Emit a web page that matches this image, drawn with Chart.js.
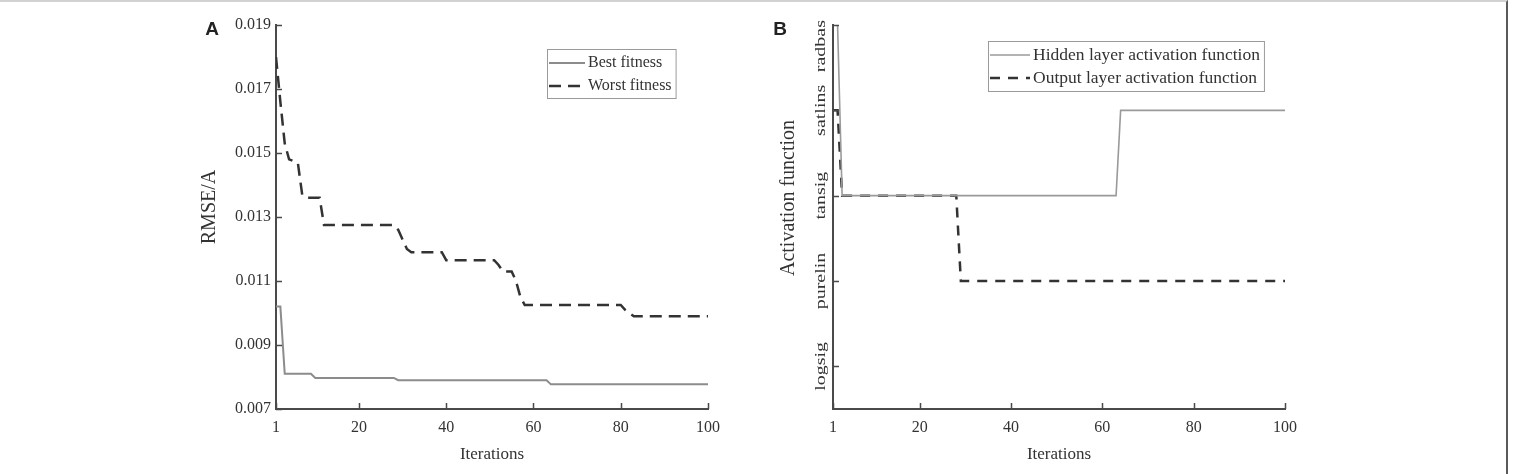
<!DOCTYPE html>
<html>
<head>
<meta charset="utf-8">
<script src="https://cdn.jsdelivr.net/npm/chart.js@4.4.0/dist/chart.umd.min.js"></script>
<style>
  html, body { margin: 0; padding: 0; background: #fff; }
  body { width: 1514px; height: 474px; position: relative; overflow: hidden; }
  #frame { position: absolute; left: 0; top: 0; width: 1506px; height: 472px;
           border-top: 2px solid #d2d2d2; border-right: 2px solid #5a5a5a; }
  .panel { position: absolute; top: 0; }
  #chart-a { left: 150px; }
  #chart-b { left: 740px; }
</style>
</head>
<body>
<div id="frame"></div>
<canvas id="chart-a" class="panel" width="590" height="474"></canvas>
<canvas id="chart-b" class="panel" width="590" height="474"></canvas>
<script>
const iterTicks = [1, 20, 40, 60, 80, 100];
const rmseTicks = [0.007, 0.009, 0.011, 0.013, 0.015, 0.017, 0.019];
const actNames = ['logsig', 'purelin', 'tansig', 'satlins', 'radbas'];

// panel A: fitness per iteration (points where the curve changes)
const bestIter = [1, 2, 3, 9, 10, 28, 29, 63, 64, 100];
const bestVal = [0.0102, 0.0102, 0.0081, 0.0081, 0.00797, 0.00797, 0.0079, 0.0079, 0.00777, 0.00777];
const worstIter = [1, 2, 3, 4, 6, 7, 8, 11, 12, 28, 29, 30, 31, 32, 39, 40, 51, 52, 53, 55, 56, 57, 58, 80, 81, 82, 83, 100];
const worstVal = [0.0180, 0.0166, 0.0153, 0.0148, 0.0147, 0.0137, 0.0136, 0.0136, 0.01275, 0.01275, 0.0126, 0.0123, 0.0120, 0.0119, 0.0119, 0.01165, 0.01165, 0.0115, 0.0113, 0.0113, 0.0110, 0.0105, 0.01025, 0.01025, 0.0101, 0.0100, 0.0099, 0.0099];

// panel B: chosen activation functions
const hiddenIter = [1, 2, 3, 63, 64, 100];
const hiddenAct = ['radbas', 'radbas', 'tansig', 'tansig', 'satlins', 'satlins'];
const outputIter = [1, 2, 3, 28, 29, 100];
const outputAct = ['satlins', 'satlins', 'tansig', 'tansig', 'purelin', 'purelin'];

const serif = '"Liberation Serif", "Times New Roman", serif';
const ink = '#333';
const axisColor = '#4a4a4a';

Chart.defaults.font.family = serif;
Chart.defaults.color = ink;

function points(iters, vals) {
    return iters.map(function (x, i) { return {x: x, y: vals[i]}; });
}
function actPoints(iters, names) {
    return iters.map(function (x, i) { return {x: x, y: actNames.indexOf(names[i]) + 1}; });
}

// inward ticks, rotated y title, panel letter, legend box, rotated category labels
const figureExtras = {
    id: 'figureExtras',
    afterDraw(chart, args, opts) {
        const ctx = chart.ctx;
        const xs = chart.scales.x, ys = chart.scales.y;
        const area = chart.chartArea;
        ctx.save();

        ctx.strokeStyle = axisColor;
        ctx.lineWidth = 1.5;
        ctx.beginPath();
        xs.ticks.forEach(function (t) {
            const px = Math.round(xs.getPixelForValue(t.value)) + 0.5;
            ctx.moveTo(px, area.bottom);
            ctx.lineTo(px, area.bottom - 6);
        });
        ys.ticks.forEach(function (t) {
            const py = Math.round(ys.getPixelForValue(t.value)) + 0.5;
            ctx.moveTo(area.left, py);
            ctx.lineTo(area.left + 6, py);
        });
        ctx.stroke();

        ctx.fillStyle = ink;
        ctx.textAlign = 'center';
        ctx.textBaseline = 'middle';

        if (opts.catLabels) {
            ctx.font = opts.catSize + 'px ' + serif;
            ys.ticks.forEach(function (t) {
                const label = opts.catLabels[t.value - 1];
                const len = ctx.measureText(label).width;
                let cy = ys.getPixelForValue(t.value);
                if (cy - len / 2 < 20) cy = 20 + len / 2;
                ctx.save();
                ctx.translate(opts.catX, cy);
                ctx.rotate(-Math.PI / 2);
                ctx.scale(1, 0.72);
                ctx.fillText(label, 0, 0);
                ctx.restore();
            });
        }

        ctx.save();
        ctx.font = opts.yTitle.size + 'px ' + serif;
        ctx.translate(opts.yTitle.x, opts.yTitle.y);
        ctx.rotate(-Math.PI / 2);
        ctx.fillText(opts.yTitle.text, 0, 0);
        ctx.restore();

        ctx.font = 'bold 19px "Liberation Sans", Arial, sans-serif';
        ctx.fillStyle = '#222';
        ctx.fillText(opts.letter.text, opts.letter.x, opts.letter.y);

        const lg = opts.legend;
        ctx.font = lg.size + 'px ' + serif;
        let textW = 0;
        chart.data.datasets.forEach(function (d) { textW = Math.max(textW, ctx.measureText(d.label).width); });
        const right = lg.left + 2 + lg.sample + 3 + textW + 4;
        ctx.strokeStyle = '#9a9a9a';
        ctx.lineWidth = 1;
        ctx.strokeRect(lg.left + 0.5, lg.top + 0.5, right - lg.left, lg.bottom - lg.top);
        ctx.textAlign = 'left';
        chart.data.datasets.forEach(function (d, i) {
            const ry = lg.rows[i];
            ctx.strokeStyle = d.borderColor;
            ctx.lineWidth = d.borderWidth;
            ctx.setLineDash(d.borderDash || []);
            ctx.beginPath();
            ctx.moveTo(lg.left + 2, ry);
            ctx.lineTo(lg.left + 2 + lg.sample, ry);
            ctx.stroke();
            ctx.setLineDash([]);
            ctx.fillStyle = ink;
            ctx.fillText(d.label, lg.left + 2 + lg.sample + 3, ry);
        });
        ctx.restore();
    }
};

function xScale(height, size) {
    return {
        type: 'linear', min: 1, max: 100,
        afterBuildTicks: function (s) { s.ticks = iterTicks.map(function (v) { return {value: v}; }); },
        afterFit: function (s) { s.height = height; },
        grid: {display: true, drawOnChartArea: false, drawTicks: false},
        border: {display: true, color: axisColor, width: 2},
        ticks: {padding: 9, maxRotation: 0, autoSkip: false, color: ink, font: {size: size},
                callback: function (v) { return String(v); }},
        title: {display: true, text: 'Iterations', color: ink, font: {size: size + 1}, padding: {top: 0, bottom: 9}}
    };
}

new Chart(document.getElementById('chart-a'), {
    type: 'line',
    data: {
        datasets: [{
            label: 'Best fitness',
            data: points(bestIter, bestVal),
            borderColor: '#8c8c8c', borderWidth: 2, pointRadius: 0, tension: 0
        }, {
            label: 'Worst fitness',
            data: points(worstIter, worstVal),
            borderColor: '#333', borderWidth: 2.5, borderDash: [12, 7], pointRadius: 0, tension: 0
        }]
    },
    options: {
        responsive: false,
        animation: false,
        layout: {padding: {left: 0, right: 590 - 558, top: 25, bottom: 0}},
        scales: {
            x: xScale(65, 16),
            y: {
                type: 'linear', min: 0.007, max: 0.019,
                afterBuildTicks: function (s) { s.ticks = rmseTicks.map(function (v) { return {value: v}; }); },
                afterFit: function (s) { s.width = 126; },
                grid: {display: true, drawOnChartArea: false, drawTicks: false},
                border: {display: true, color: axisColor, width: 2},
                ticks: {padding: 5, color: ink, font: {size: 16},
                        callback: function (v) { return v.toFixed(3); }}
            }
        },
        plugins: {
            legend: {display: false},
            tooltip: {enabled: false},
            figureExtras: {
                yTitle: {text: 'RMSE/A', x: 60, y: 207, size: 20},
                letter: {text: 'A', x: 62, y: 30},
                legend: {left: 397, top: 49, bottom: 98, rows: [63, 86], sample: 36, size: 16}
            }
        }
    },
    plugins: [figureExtras]
});

new Chart(document.getElementById('chart-b'), {
    type: 'line',
    data: {
        datasets: [{
            label: 'Hidden layer activation function',
            data: actPoints(hiddenIter, hiddenAct),
            borderColor: '#9a9a9a', borderWidth: 1.6, pointRadius: 0, tension: 0
        }, {
            label: 'Output layer activation function',
            data: actPoints(outputIter, outputAct),
            borderColor: '#333', borderWidth: 2.5, borderDash: [10, 8], pointRadius: 0, tension: 0
        }]
    },
    options: {
        responsive: false,
        animation: false,
        layout: {padding: {left: 0, right: 590 - 545, top: 25, bottom: 0}},
        scales: {
            x: xScale(65, 16),
            y: {
                type: 'linear', min: 0.5, max: 5,
                afterBuildTicks: function (s) { s.ticks = [1, 2, 3, 4, 5].map(function (v) { return {value: v}; }); },
                afterFit: function (s) { s.width = 93; },
                grid: {display: true, drawOnChartArea: false, drawTicks: false},
                border: {display: true, color: axisColor, width: 2},
                ticks: {display: false}
            }
        },
        plugins: {
            legend: {display: false},
            tooltip: {enabled: false},
            figureExtras: {
                catLabels: actNames, catX: 81, catSize: 20,
                yTitle: {text: 'Activation function', x: 49, y: 198, size: 20},
                letter: {text: 'B', x: 40, y: 30},
                legend: {left: 248, top: 41, bottom: 91, rows: [55, 78], sample: 40, size: 17.5}
            }
        }
    },
    plugins: [figureExtras]
});
</script>
</body>
</html>
